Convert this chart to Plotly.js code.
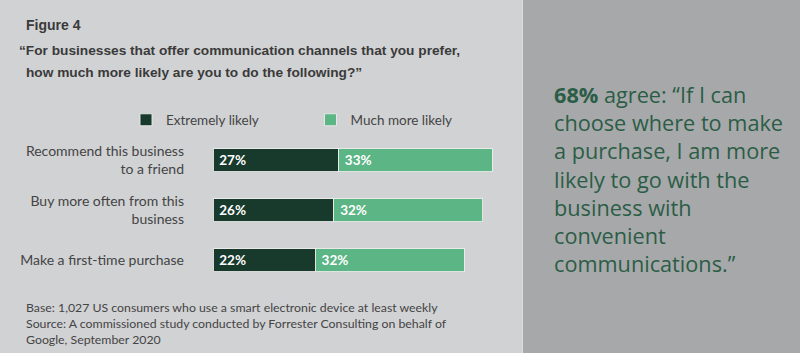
<!DOCTYPE html>
<html>
<head>
<meta charset="utf-8">
<script src="https://cdn.plot.ly/plotly-3.0.1.min.js"></script>
<style>html,body{margin:0;padding:0;background:#d1d2d4;}#chart{width:800px;height:353px;}</style>
</head>
<body>
<div id="chart"></div>
<script>
// ---- data ----
const categories = ["Recommend this business<br>to a friend", "Buy more often from this<br>business", "Make a first-time purchase"];
const seriesNames = ["Extremely likely", "Much more likely"];
const extremelyLikely = [27, 26, 22];
const muchMoreLikely = [33, 32, 32];
const figureLabel = "Figure 4";
const questionLines = ["\u201CFor businesses that offer communication channels that you prefer,", "how much more likely are you to do the following?\u201D"];
const footnoteLines = ["Base: 1,027 US consumers who use a smart electronic device at least weekly",
  "Source: A commissioned study conducted by Forrester Consulting on behalf of",
  "Google, September 2020"];
const calloutText = "<b>68%</b> agree: \u201CIf I can<br>choose where to make<br>a purchase, I am more<br>likely to go with the<br>business with<br>convenient<br>communications.\u201D";

// ---- layout geometry ----
const W = 800, H = 353;
const L = 213, R = 523, T = 135, B = 285;
const px = x => (x - L) / (R - L);
const py = y => (B - y) / (B - T);

const darkC = "#173a2c", lightC = "#5cb585";
const textC = "#444444";
const sans = "Lato, 'Open Sans', sans-serif";

const traces = [
  {type: "bar", orientation: "h", name: seriesNames[0], y: categories, x: extremelyLikely,
   marker: {color: darkC, line: {color: "rgba(235,235,235,0.9)", width: 1}},
   texttemplate: "\u00a0%{x}%", textposition: "inside", insidetextanchor: "start",
   textfont: {color: "#ffffff", size: 13.5, family: sans, weight: "bold"}, hoverinfo: "skip", cliponaxis: false},
  {type: "bar", orientation: "h", name: seriesNames[1], y: categories, x: muchMoreLikely,
   marker: {color: lightC, line: {color: "rgba(235,235,235,0.9)", width: 1}},
   texttemplate: "\u00a0%{x}%", textposition: "inside", insidetextanchor: "start",
   textfont: {color: "#ffffff", size: 13.5, family: sans, weight: "bold"}, hoverinfo: "skip", cliponaxis: false}
];

const annotations = [
  {xref: "paper", yref: "paper", x: px(24), y: py(25), xanchor: "left", yanchor: "middle", showarrow: false,
   text: "<b>" + figureLabel + "</b>", font: {family: "'Liberation Sans', Arial, sans-serif", size: 14, color: "#3a3a3a"}},
  {xref: "paper", yref: "paper", x: px(17), y: py(51), xanchor: "left", yanchor: "middle", showarrow: false,
   text: "<b>" + questionLines[0] + "</b>", font: {family: "'Liberation Sans', Arial, sans-serif", size: 13.7, color: "#3a3a3a"}},
  {xref: "paper", yref: "paper", x: px(24), y: py(72), xanchor: "left", yanchor: "middle", showarrow: false,
   text: "<b>" + questionLines[1] + "</b>", font: {family: "'Liberation Sans', Arial, sans-serif", size: 13.7, color: "#3a3a3a"}},
  {xref: "paper", yref: "paper", x: px(24), y: py(323.5), xanchor: "left", yanchor: "middle", showarrow: false, align: "left",
   text: footnoteLines.join("<br>"), font: {family: sans, size: 12.3, color: textC}},
  {xref: "paper", yref: "paper", x: px(552), y: py(179), xanchor: "left", yanchor: "middle", showarrow: false, align: "left",
   text: calloutText, font: {family: "'Open Sans', Lato, sans-serif", size: 21.7, color: "#2b5d46"}}
];

const shapes = [
  {type: "rect", xref: "paper", yref: "paper", x0: px(523), x1: px(W + 5), y0: py(H + 5), y1: py(-5),
   fillcolor: "#a7a8aa", line: {width: 0}, layer: "below"},
  {type: "line", xref: "paper", yref: "paper", x0: px(522.5), x1: px(522.5), y0: py(H + 5), y1: py(-5),
   line: {color: "#dcdddf", width: 1}, layer: "below"}
];

const layout = {
  width: W, height: H,
  margin: {l: L, r: W - R, t: T, b: H - B, pad: 0},
  paper_bgcolor: "#d1d2d4", plot_bgcolor: "rgba(0,0,0,0)",
  barmode: "stack", bargap: 0.54,
  font: {family: sans, color: textC},
  xaxis: {range: [0, (R - L) / 4.65], visible: false, fixedrange: true},
  yaxis: {autorange: "reversed", showgrid: false, zeroline: false, showline: false, ticks: "",
          tickfont: {family: sans, size: 14, color: textC}, ticklabelstandoff: 28, fixedrange: true},
  showlegend: true,
  legend: {orientation: "h", x: px(126), y: py(120), xanchor: "left", yanchor: "middle",
           entrywidth: 139.5, entrywidthmode: "pixels", font: {family: sans, size: 13.5, color: textC},
           bgcolor: "rgba(0,0,0,0)", traceorder: "normal"},
  annotations: annotations,
  shapes: shapes
};

Plotly.newPlot("chart", traces, layout, {displayModeBar: false, staticPlot: true});
</script>
</body>
</html>
